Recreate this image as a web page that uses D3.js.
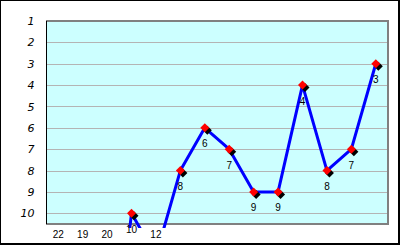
<!DOCTYPE html>
<html>
<head>
<meta charset="utf-8">
<script src="https://cdn.jsdelivr.net/npm/d3@7"></script>
<style>
  html, body { margin: 0; padding: 0; background: #fff; }
  svg { display: block; }
  .ytick { font: italic 11px "DejaVu Sans", sans-serif; fill: #000; }
  .dlabel { font: 10px "Liberation Sans", Arial, sans-serif; fill: #000; }
</style>
</head>
<body>
<svg id="chart" width="400" height="245"></svg>
<script>
// ranks per round (lower is better)
const rounds = ["1", "2", "3", "4", "5", "6", "7", "8", "9", "10", "11", "12", "13", "14"];
const ranks = [22, 19, 20, 10, 12, 8, 6, 7, 9, 9, 4, 8, 7, 3];
const yTicks = [1, 2, 3, 4, 5, 6, 7, 8, 9, 10];

const W = 400, H = 245;
const plot = { left: 46, top: 21, right: 388, bottom: 224 };

const svg = d3.select("#chart");

// outer frame
svg.append("rect").attr("x", 0).attr("y", 0).attr("width", W).attr("height", H).attr("fill", "#fff");
svg.append("rect").attr("x", 0.5).attr("y", 0.5).attr("width", W - 2).attr("height", H - 2)
  .attr("fill", "none").attr("stroke", "#000").attr("stroke-width", 1);
svg.append("line").attr("x1", W - 1).attr("x2", W - 1).attr("y1", 0).attr("y2", H)
  .attr("stroke", "#000").attr("stroke-width", 2);
svg.append("line").attr("x1", 0).attr("x2", W).attr("y1", H - 1).attr("y2", H - 1)
  .attr("stroke", "#000").attr("stroke-width", 2);

const x = d3.scaleBand().domain(rounds).range([plot.left, plot.right]);
const y = d3.scaleLinear().domain([1, 10.5]).range([plot.top, plot.bottom]);
const cx = d => x(d) + x.bandwidth() / 2;

// plot background
svg.append("rect")
  .attr("x", plot.left).attr("y", plot.top)
  .attr("width", plot.right - plot.left).attr("height", plot.bottom - plot.top)
  .attr("fill", "#ccffff");

// gridlines
svg.append("g").selectAll("line")
  .data(yTicks.filter(t => t > 1)).join("line")
  .attr("x1", plot.left).attr("x2", plot.right)
  .attr("y1", d => Math.round(y(d)) + 0.5).attr("y2", d => Math.round(y(d)) + 0.5)
  .attr("stroke", "#b4b4b4").attr("stroke-width", 1);

// plot border (grey top/right/bottom)
svg.append("path")
  .attr("d", `M${plot.left},${plot.top}H${plot.right}V${plot.bottom}H${plot.left}`)
  .attr("fill", "none").attr("stroke", "#808080").attr("stroke-width", 2);

// y axis
const yAxis = d3.axisLeft(y).tickValues(yTicks).tickSize(0).tickPadding(12);
const ya = svg.append("g").attr("transform", `translate(${plot.left + 0.5},0)`).call(yAxis);
ya.select(".domain").attr("stroke", "#000").attr("d", `M0,${plot.top}V${plot.bottom}`);
ya.selectAll("text").attr("class", "ytick").attr("font-size", null).attr("font-family", null);

// clip for the line: lets it run a few px below the axis like the original
svg.append("clipPath").attr("id", "clip").append("rect")
  .attr("x", plot.left).attr("y", plot.top - 6)
  .attr("width", plot.right - plot.left).attr("height", plot.bottom - plot.top + 10);

const line = d3.line().x((d, i) => cx(rounds[i])).y(d => y(d));
svg.append("path").datum(ranks)
  .attr("clip-path", "url(#clip)")
  .attr("d", line)
  .attr("fill", "none").attr("stroke", "#0000ff").attr("stroke-width", 3)
  .attr("stroke-linejoin", "round");

// markers (only those inside the range)
const pts = ranks.map((v, i) => ({ v, r: rounds[i] })).filter(d => d.v <= 10.5);
const diamond = "M0,-4.5L4.5,0L0,4.5L-4.5,0Z";
const mk = svg.append("g");
mk.selectAll("path.sh").data(pts).join("path").attr("class", "sh")
  .attr("d", diamond).attr("fill", "#000")
  .attr("transform", d => `translate(${cx(d.r) + 2.5},${y(d.v) + 2.5})`);
mk.selectAll("path.mk").data(pts).join("path").attr("class", "mk")
  .attr("d", diamond).attr("fill", "#ff0000")
  .attr("transform", d => `translate(${cx(d.r)},${y(d.v)})`);

// data labels below each point; off-chart ones sit under the axis
svg.append("g").selectAll("text")
  .data(ranks.map((v, i) => ({ v, r: rounds[i] }))).join("text")
  .attr("class", "dlabel")
  .attr("x", d => cx(d.r))
  .attr("y", d => Math.min(y(d.v) + 16, 234) + 3.5)
  .attr("text-anchor", "middle")
  .text(d => d.v);
</script>
</body>
</html>
